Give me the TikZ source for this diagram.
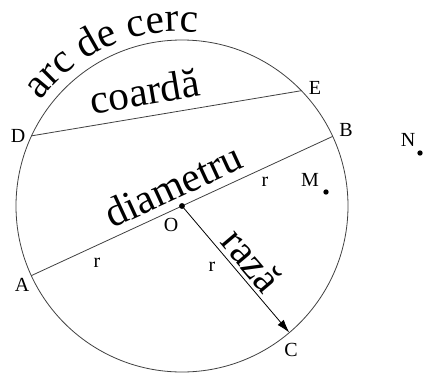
\documentclass[tikz,border=0pt]{standalone}
\usepackage{fontspec}
\setmainfont{Liberation Serif}
\usetikzlibrary{arrows.meta,decorations.text}

\begin{document}
\begin{tikzpicture}[x=0.75pt,y=0.75pt,
    lbl/.style={font=\fontsize{15}{15}\selectfont, inner sep=0pt},
    big/.style={font=\fontsize{31}{31}\selectfont, inner sep=0pt},
    edge/.style={line width=0.6pt, draw=black!75}]

    \useasboundingbox (-182,-166) rectangle (242,206);

    \coordinate (O) at (0,0);
    \coordinate (A) at (204.8:166);
    \coordinate (B) at (24.8:166);
    \coordinate (D) at (155:166);
    \coordinate (E) at (44:166);
    \coordinate (C) at (-49.7:166);
    \coordinate (M) at (144,14);
    \coordinate (N) at (238,53);

    \draw[edge] (O) circle[radius=166];
    \draw[edge] (D) -- (E);
    \draw[edge] (A) -- (B);
    \draw[edge, draw=black, -{Latex[length=10pt,width=6pt]}] (O) -- (C);

    \fill (O) circle (2.2pt);
    \fill (M) circle (2pt);
    \fill (N) circle (2pt);

    \node[lbl] (lD) at (-164,70) {D};
    \node[lbl] (lE) at (133,118) {E};
    \node[lbl] (lB) at (164,76) {B};
    \node[lbl] (lA) at (-160,-79) {A};
    \node[lbl] (lC) at (109,-144) {C};
    \node[lbl] (lO) at (-11,-19) {O};
    \node[lbl] (lM) at (128,26) {M};
    \node[lbl] (lN) at (226,66) {N};

    \node[lbl] (r1) at (-85,-57) {r};
    \node[lbl] (r2) at (30,-61) {r};
    \node[lbl] (r3) at (83,24) {r};

    \path[decorate, decoration={text along path, text align=center,
        text={|\fontsize{31}{31}\selectfont|arc de cerc}}]
        (143:176) arc[start angle=143, end angle=84, radius=172];

    \node[big, rotate=9.5, anchor=base] (coarda) at (-35,101) {coardă};
    \node[big, rotate=24.8, anchor=base] (diam) at (-3,8) {diametru};
    \node[big, rotate=-49.7] (raza) at (70,-54) {rază};

\end{tikzpicture}
\end{document}
